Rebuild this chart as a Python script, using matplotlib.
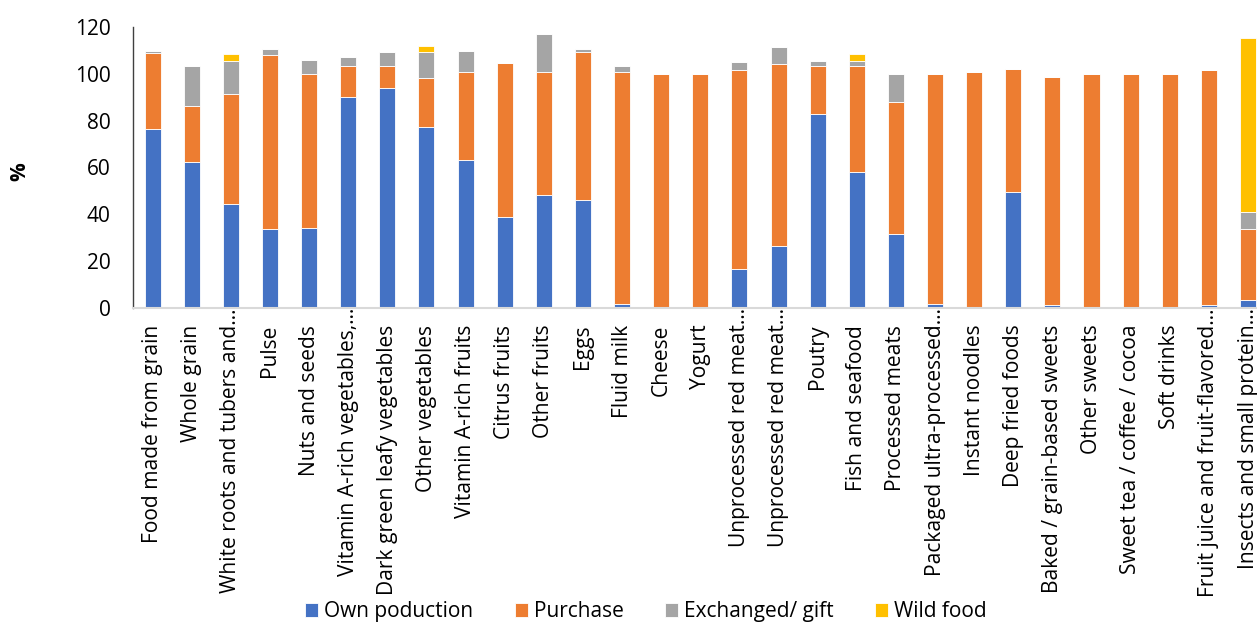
import matplotlib
matplotlib.use("Agg")
import matplotlib.pyplot as plt
import matplotlib.transforms as mtransforms
import numpy as np

plt.rcParams['font.family'] = ['Open Sans', 'DejaVu Sans']

categories = [
    "Food made from grain", "Whole grain", "White roots and tubers and\u2026",
    "Pulse", "Nuts and seeds", "Vitamin A-rich vegetables,\u2026",
    "Dark green leafy vegetables", "Other vegetables", "Vitamin A-rich fruits",
    "Citrus fruits", "Other fruits", "Eggs", "Fluid milk", "Cheese", "Yogurt",
    "Unprocessed red meat\u2026", "Unprocessed red meat\u2026", "Poutry",
    "Fish and seafood", "Processed meats", "Packaged ultra-processed\u2026",
    "Instant noodles", "Deep fried foods", "Baked / grain-based sweets",
    "Other sweets", "Sweet tea / coffee / cocoa", "Soft drinks",
    "Fruit juice and fruit-flavored\u2026", "Insects and small protein\u2026",
]

own_production = [76.3, 62.5, 44.3, 33.9, 34.3, 90.2, 93.8, 77.3, 63.3, 38.9,
                  48.4, 46.1, 1.8, 0.0, 0.0, 16.8, 26.6, 82.7, 58.2, 31.7,
                  1.7, 0.3, 49.7, 1.3, 0.0, 0.0, 0.0, 1.3, 3.5]
purchase = [32.7, 23.9, 47.2, 74.3, 65.7, 13.0, 9.7, 21.0, 37.6, 65.6,
            52.5, 63.3, 99.1, 100.0, 100.0, 85.0, 77.7, 20.8, 45.0, 56.3,
            98.3, 100.5, 52.4, 97.2, 100.0, 100.0, 100.0, 100.3, 30.1]
exchanged_gift = [0.7, 16.9, 14.1, 2.4, 5.7, 4.0, 5.7, 11.1, 9.0, 0.0,
                  16.1, 1.1, 2.4, 0.0, 0.0, 3.1, 7.0, 2.0, 2.4, 11.9,
                  0.0, 0.0, 0.0, 0.0, 0.0, 0.0, 0.0, 0.0, 7.5]
wild_food = [0.0, 0.0, 2.9, 0.0, 0.0, 0.0, 0.0, 2.6, 0.0, 0.0,
             0.0, 0.0, 0.0, 0.0, 0.0, 0.0, 0.0, 0.0, 2.7, 0.0,
             0.0, 0.0, 0.0, 0.0, 0.0, 0.0, 0.0, 0.0, 74.1]

series = [
    ("Own poduction", own_production, "#4472C4"),
    ("Purchase", purchase, "#ED7D31"),
    ("Exchanged/ gift", exchanged_gift, "#A5A5A5"),
    ("Wild food", wild_food, "#FFC000"),
]

fig = plt.figure(figsize=(12.57, 6.23), dpi=100)
ax = fig.add_axes([0.1058, 0.5056, 1 - 0.1058, 0.9567 - 0.5056])

x = np.arange(len(categories))
bottom = np.zeros(len(categories))
handles = []
for name, vals, color in series:
    vals = np.array(vals)
    b = ax.bar(x, vals, width=0.41, bottom=bottom, color=color,
               edgecolor="white", linewidth=0.6, label=name)
    handles.append(b)
    bottom += vals

ax.set_xlim(-0.5, 28.23)
ax.set_ylim(0, 120)
ax.set_yticks(range(0, 121, 20))
ax.tick_params(axis='y', length=0, labelsize=15, pad=16)
ax.tick_params(axis='x', length=0, labelsize=15.1, pad=12)
ax.set_xticks(x)
ax.set_xticklabels(categories, rotation=90)

# truncated labels: let the trailing ellipsis sit above the common text start
lift = mtransforms.ScaledTranslation(0, 12 / 72, fig.dpi_scale_trans)
for lab in ax.get_xticklabels():
    if lab.get_text().endswith("\u2026"):
        lab.set_transform(lab.get_transform() + lift)

for s in ("top", "right"):
    ax.spines[s].set_visible(False)
ax.spines["bottom"].set_color("#D9D9D9")
ax.spines["bottom"].set_linewidth(1.5)
ax.spines["left"].set_color("#404040")
ax.spines["left"].set_linewidth(1.0)

fig.text(0.016, 0.725, "%", rotation=90, fontsize=15, fontweight="bold",
         ha="center", va="center")

fig.legend(handles=handles, loc="center", bbox_to_anchor=(0.514, 0.018),
           ncol=4, frameon=False, fontsize=15, handlelength=0.6,
           handleheight=0.6, handletextpad=0.3, columnspacing=2.0,
           borderaxespad=0)

fig.savefig("out.png", dpi=100)
